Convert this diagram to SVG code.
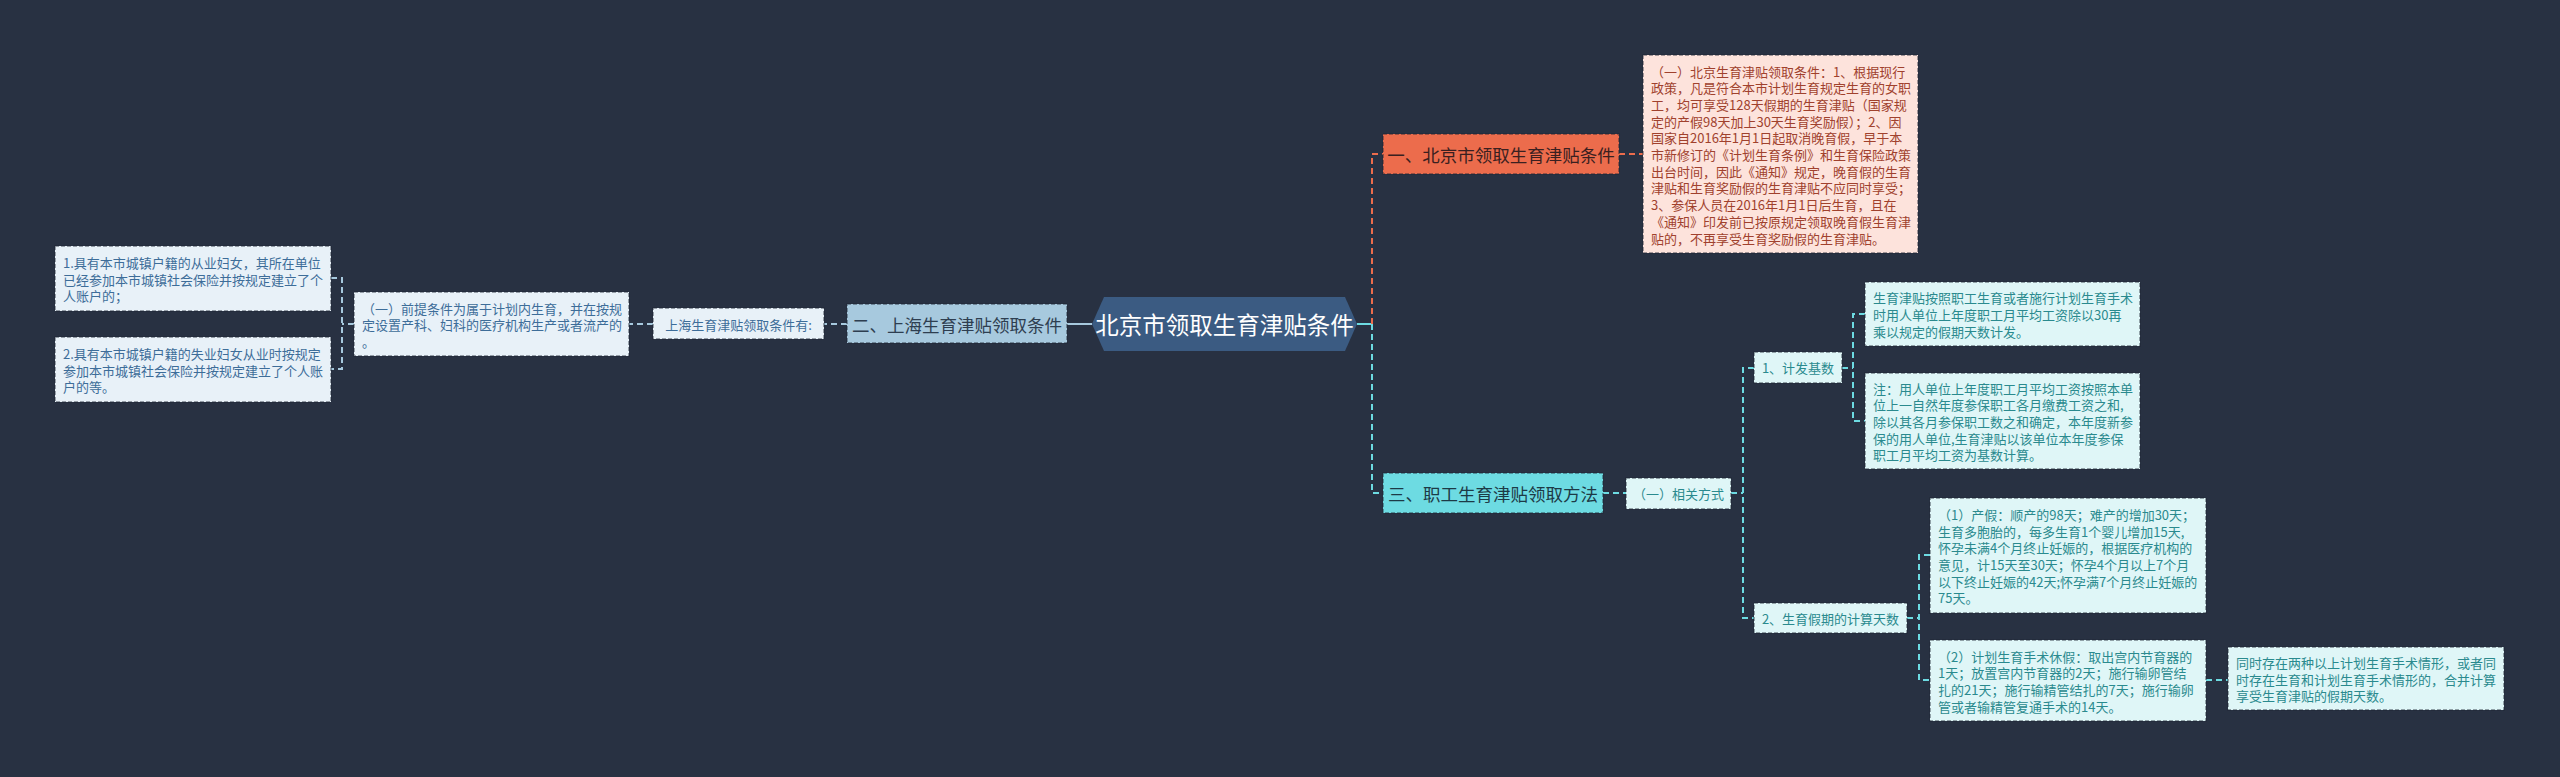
<svg xmlns="http://www.w3.org/2000/svg" width="2560" height="777" viewBox="0 0 2560 777">
<style>
text{font-family:"Noto Sans CJK SC","Noto Sans",sans-serif;dominant-baseline:central}
.c{fill:none;stroke-width:2;stroke-dasharray:6 4}
.cb{stroke:#a7c9de}.co{stroke:#ec6c4c}.cc{stroke:#6ddbe2}
.bd{stroke:#1f2733;stroke-opacity:.55;stroke-width:1.5;stroke-dasharray:4 2}
.lb{fill:#e8f1f8}.lc{fill:#dff6f7}.lo{fill:#fde3dc}
.tb{fill:#3d6d99;font-size:13px}.tc{fill:#2a8a8e;font-size:13px}.to{fill:#a0412d;font-size:13px}
.m{font-size:17.5px}
</style>
<rect width="2560" height="777" fill="#283142"/>
<g id="connectors">
<path d="M1092,324H1067" stroke="#a7c9de" stroke-width="2" fill="none"/>
<path class="c cb" d="M847,324H824"/>
<path class="c cb" d="M653,324H629"/>
<path class="c cb" d="M354,324H342M331,278H342V369H331"/>
<path d="M1357,324H1372" stroke="#6ddbe2" stroke-width="2" fill="none"/>
<path class="c co" d="M1372,324V154H1383"/>
<path class="c cc" d="M1372,324V493H1383"/>
<path class="c co" d="M1619,154H1643"/>
<path class="c cc" d="M1603,493H1626"/>
<path class="c cc" d="M1731,493H1743M1754,368H1743V618H1754"/>
<path class="c cc" d="M1842,368H1853M1865,314H1853V421H1865"/>
<path class="c cc" d="M1907,618H1919M1930,555H1919V680H1930"/>
<path class="c cc" d="M2206,680H2228"/>
</g>
<g id="root">
<path d="M1104,297H1345L1357,324L1345,351H1104L1092,324Z" fill="#3b5b82"/>
<text x="1224.5" y="324" font-size="23.5" fill="#ffffff" text-anchor="middle">北京市领取生育津贴条件</text>
</g>
<g id="n2">
<rect x="847" y="304" width="220" height="39" fill="#a7c9de" class="bd"/>
<text x="957" y="324" class="m" fill="#2e3e50" text-anchor="middle">二、上海生育津贴领取条件</text>
</g>
<g id="n2a">
<rect x="653" y="308" width="171" height="31" class="lb bd"/>
<text x="738.5" y="324" class="tb" text-anchor="middle">上海生育津贴领取条件有:</text>
</g>
<g id="n2b">
<rect x="354" y="292" width="275" height="64" class="lb bd"/>
<text class="tb"><tspan x="362" y="307.5">（一）前提条件为属于计划内生育，并在按规</tspan><tspan x="362" y="324.2">定设置产科、妇科的医疗机构生产或者流产的</tspan><tspan x="362" y="340.9">。</tspan></text>
</g>
<g id="n2b1">
<rect x="55" y="246" width="276" height="65" class="lb bd"/>
<text class="tb"><tspan x="63" y="261.8">1.具有本市城镇户籍的从业妇女，其所在单位</tspan><tspan x="63" y="278.5">已经参加本市城镇社会保险并按规定建立了个</tspan><tspan x="63" y="295.2">人账户的；</tspan></text>
</g>
<g id="n2b2">
<rect x="55" y="337" width="276" height="65" class="lb bd"/>
<text class="tb"><tspan x="63" y="352.8">2.具有本市城镇户籍的失业妇女从业时按规定</tspan><tspan x="63" y="369.5">参加本市城镇社会保险并按规定建立了个人账</tspan><tspan x="63" y="386.2">户的等。</tspan></text>
</g>
<g id="n1">
<rect x="1383" y="134" width="236" height="40" fill="#ec6c4c" class="bd"/>
<text x="1501" y="154" class="m" fill="#3a2020" text-anchor="middle">一、北京市领取生育津贴条件</text>
</g>
<g id="n1a">
<rect x="1643" y="55" width="275" height="198" class="lo bd"/>
<text class="to"><tspan x="1651" y="70.5">（一）北京生育津贴领取条件：1、根据现行</tspan><tspan x="1651" y="87.2">政策，凡是符合本市计划生育规定生育的女职</tspan><tspan x="1651" y="103.9">工，均可享受128天假期的生育津贴（国家规</tspan><tspan x="1651" y="120.6">定的产假98天加上30天生育奖励假）；2、因</tspan><tspan x="1651" y="137.3">国家自2016年1月1日起取消晚育假，早于本</tspan><tspan x="1651" y="154">市新修订的《计划生育条例》和生育保险政策</tspan><tspan x="1651" y="170.7">出台时间，因此《通知》规定，晚育假的生育</tspan><tspan x="1651" y="187.4">津贴和生育奖励假的生育津贴不应同时享受；</tspan><tspan x="1651" y="204.1">3、参保人员在2016年1月1日后生育，且在</tspan><tspan x="1651" y="220.8">《通知》印发前已按原规定领取晚育假生育津</tspan><tspan x="1651" y="237.5">贴的，不再享受生育奖励假的生育津贴。</tspan></text>
</g>
<g id="n3">
<rect x="1383" y="473" width="220" height="40" fill="#6ddbe2" class="bd"/>
<text x="1493" y="493" class="m" fill="#1d3a46" text-anchor="middle">三、职工生育津贴领取方法</text>
</g>
<g id="n3a">
<rect x="1626" y="478" width="105" height="31" class="lc bd"/>
<text x="1678.5" y="493.5" class="tc" text-anchor="middle">（一）相关方式</text>
</g>
<g id="n3a1">
<rect x="1754" y="352" width="88" height="31" class="lc bd"/>
<text x="1798" y="367.5" class="tc" text-anchor="middle">1、计发基数</text>
</g>
<g id="n3a2">
<rect x="1754" y="603" width="153" height="30" class="lc bd"/>
<text x="1830.5" y="618" class="tc" text-anchor="middle">2、生育假期的计算天数</text>
</g>
<g id="n3a1a">
<rect x="1865" y="282" width="275" height="64" class="lc bd"/>
<text class="tc"><tspan x="1873" y="297.3">生育津贴按照职工生育或者施行计划生育手术</tspan><tspan x="1873" y="314">时用人单位上年度职工月平均工资除以30再</tspan><tspan x="1873" y="330.7">乘以规定的假期天数计发。</tspan></text>
</g>
<g id="n3a1b">
<rect x="1865" y="373" width="275" height="96" class="lc bd"/>
<text class="tc"><tspan x="1873" y="387.6">注：用人单位上年度职工月平均工资按照本单</tspan><tspan x="1873" y="404.3">位上一自然年度参保职工各月缴费工资之和,</tspan><tspan x="1873" y="421">除以其各月参保职工数之和确定，本年度新参</tspan><tspan x="1873" y="437.7">保的用人单位,生育津贴以该单位本年度参保</tspan><tspan x="1873" y="454.4">职工月平均工资为基数计算。</tspan></text>
</g>
<g id="n3a2a">
<rect x="1930" y="498" width="276" height="115" class="lc bd"/>
<text class="tc"><tspan x="1938" y="513.8">（1）产假：顺产的98天；难产的增加30天；</tspan><tspan x="1938" y="530.5">生育多胞胎的，每多生育1个婴儿增加15天,</tspan><tspan x="1938" y="547.2">怀孕未满4个月终止妊娠的，根据医疗机构的</tspan><tspan x="1938" y="563.9">意见，计15天至30天；怀孕4个月以上7个月</tspan><tspan x="1938" y="580.6">以下终止妊娠的42天;怀孕满7个月终止妊娠的</tspan><tspan x="1938" y="597.3">75天。</tspan></text>
</g>
<g id="n3a2b">
<rect x="1930" y="640" width="276" height="81" class="lc bd"/>
<text class="tc"><tspan x="1938" y="655.5">（2）计划生育手术休假：取出宫内节育器的</tspan><tspan x="1938" y="672.2">1天；放置宫内节育器的2天；施行输卵管结</tspan><tspan x="1938" y="688.9">扎的21天；施行输精管结扎的7天；施行输卵</tspan><tspan x="1938" y="705.6">管或者输精管复通手术的14天。</tspan></text>
</g>
<g id="n3a2b1">
<rect x="2228" y="647" width="276" height="63" class="lc bd"/>
<text class="tc"><tspan x="2236" y="661.8">同时存在两种以上计划生育手术情形，或者同</tspan><tspan x="2236" y="678.5">时存在生育和计划生育手术情形的，合并计算</tspan><tspan x="2236" y="695.2">享受生育津贴的假期天数。</tspan></text>
</g>
</svg>
